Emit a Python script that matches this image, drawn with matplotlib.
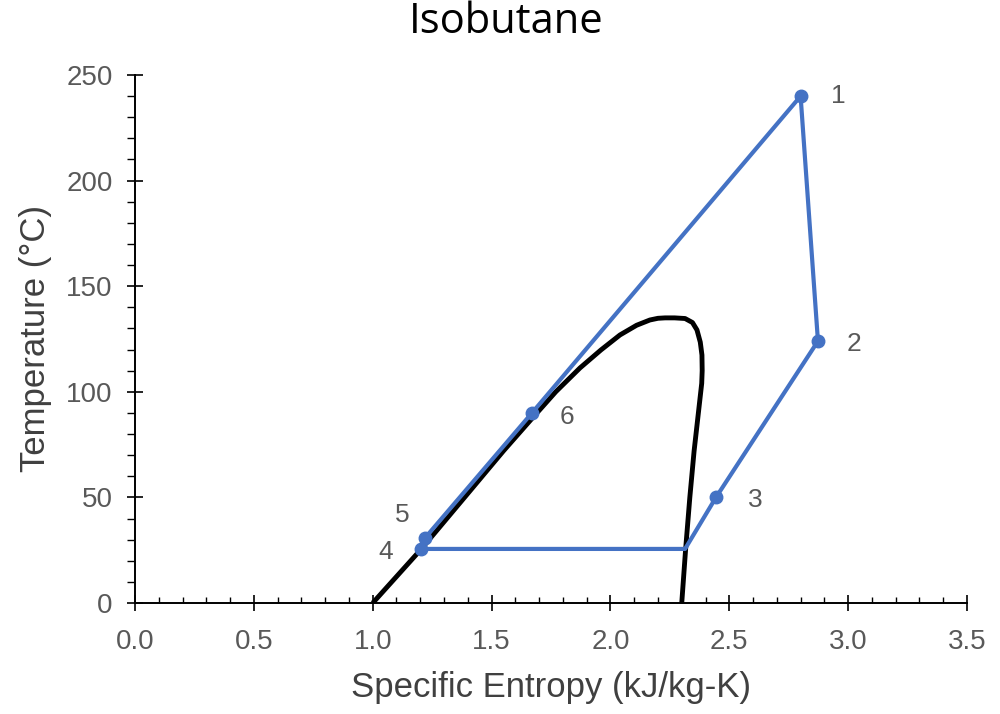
import matplotlib
matplotlib.use("Agg")
import matplotlib.pyplot as plt
from matplotlib.ticker import MultipleLocator

# ---- data ----
title = "Isobutane"
x_label = "Specific Entropy (kJ/kg-K)"
y_label = "Temperature (°C)"

# saturation dome (liquid side then vapour side)
dome_s = [1.00, 1.10, 1.20, 1.39, 1.55, 1.675, 1.77, 1.872, 1.96, 2.04, 2.11, 2.166,
          2.20, 2.23, 2.27, 2.314, 2.345, 2.364, 2.378, 2.385, 2.386, 2.384, 2.376,
          2.364, 2.352, 2.334, 2.316, 2.30]
dome_T = [0.0, 12.5, 25.0, 50.5, 72.0, 88.0, 100.0, 111.3, 119.8, 126.9, 131.5, 134.0,
          134.8, 135.0, 135.0, 134.7, 132.8, 129.3, 123.5, 117.4, 110.0, 104.0, 96.0,
          84.0, 72.0, 50.0, 25.0, 0.0]

# cycle path 1-2-3-(sat. vapour)-4-5-6-1
cycle_s = [2.80, 2.873, 2.444, 2.314, 1.203, 1.220, 1.670, 2.80]
cycle_T = [240.0, 124.0, 50.0, 25.6, 25.6, 30.8, 90.0, 240.0]

# state points with markers and labels
state_labels = ["1", "2", "3", "4", "5", "6"]
state_s = [2.80, 2.873, 2.444, 1.203, 1.220, 1.670]
state_T = [240.0, 124.0, 50.0, 25.6, 30.8, 90.0]
label_offsets_px = [(38, 0), (36, -3), (39, -3), (-35, -3), (-23, 23), (35, -4)]

x_ticks = [0.0, 0.5, 1.0, 1.5, 2.0, 2.5, 3.0, 3.5]
y_ticks = [0, 50, 100, 150, 200, 250]

# ---- figure ----
BLUE = "#4472C4"
GRAY = "#595959"
fig = plt.figure(figsize=(10, 7.14), dpi=100)
ax = fig.add_axes([0.135, 1 - 603 / 714, 0.832, (603 - 75) / 714])

ax.plot(dome_s, dome_T, color="black", lw=3.5, solid_joinstyle="round",
        solid_capstyle="butt", zorder=2)
ax.plot(cycle_s, cycle_T, color=BLUE, lw=3.0, solid_joinstyle="round", zorder=3)
ax.plot(state_s, state_T, "o", color=BLUE, ms=9, zorder=4)

for lab, s, T, (dx, dy) in zip(state_labels, state_s, state_T, label_offsets_px):
    ax.annotate(lab, (s, T), xytext=(dx * 0.72, dy * 0.72), textcoords="offset points",
                ha="center", va="center", fontsize=19, color=GRAY,
                family="Liberation Sans")

ax.set_xlim(0, 3.5)
ax.set_ylim(0, 250)
ax.set_xticks(x_ticks)
ax.set_yticks(y_ticks)
ax.set_xticklabels([f"{v:.1f}" for v in x_ticks])
ax.set_yticklabels([str(v) for v in y_ticks])
ax.xaxis.set_minor_locator(MultipleLocator(0.1))
ax.yaxis.set_minor_locator(MultipleLocator(10))

for sp in ["top", "right"]:
    ax.spines[sp].set_visible(False)
for sp in ["left", "bottom"]:
    ax.spines[sp].set_linewidth(1.4)
    ax.spines[sp].set_color("black")

ax.tick_params(axis="x", which="major", direction="inout", length=11, width=1.2,
               pad=13, labelsize=20, labelcolor=GRAY)
ax.tick_params(axis="x", which="minor", direction="in", length=4, width=1.0)
ax.tick_params(axis="y", which="major", direction="inout", length=12, width=1.2,
               pad=10, labelsize=20, labelcolor=GRAY)
ax.tick_params(axis="y", which="minor", direction="out", length=6, width=1.0)
for lbl in ax.get_xticklabels() + ax.get_yticklabels():
    lbl.set_family("Liberation Sans")

ax.set_xlabel(x_label, fontsize=25, color="#404040", family="Liberation Sans", labelpad=12)
ax.set_ylabel(y_label, fontsize=25, color="#404040", family="Liberation Sans", labelpad=10)

fig.text(0.506, 1 - 22 / 714, title, ha="center", va="center", fontsize=30,
         family="Open Sans", color="black")

fig.savefig("out.png", dpi=100, facecolor="white")
